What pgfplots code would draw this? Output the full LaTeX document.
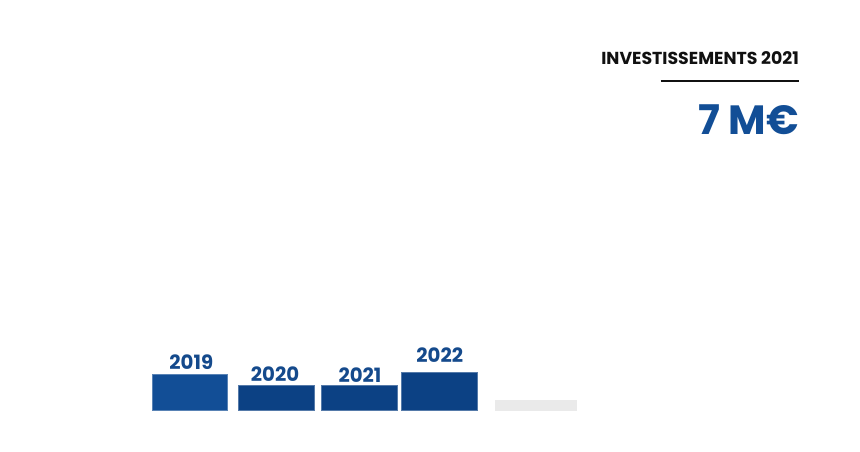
\documentclass[border=0pt]{standalone}
\usepackage{pgfplots}
\pgfplotsset{compat=1.18}
\usepackage{fontspec}
\setmainfont{Poppins}
\definecolor{bA}{HTML}{124E96}
\definecolor{bB}{HTML}{0C4184}
\definecolor{lab}{HTML}{154A8C}
\definecolor{gr}{HTML}{EAEAEA}
\definecolor{txt}{HTML}{111111}
\begin{document}
\begin{tikzpicture}
\begin{axis}[
  width=860bp, height=451bp, scale only axis,
  xmin=0, xmax=860, ymin=-40.3, ymax=410.7,
  hide axis, clip=false,
]
\path (rel axis cs:0,0) rectangle (rel axis cs:1,1);
\addplot[ybar, bar shift=0pt, bar width=75.4, fill=bA, draw=bA!70!white, line width=0.6bp] coordinates {(190,36.4)};
\addplot[ybar, bar shift=0pt, bar width=75.7, fill=bB, draw=bB!70!white, line width=0.6bp] coordinates {(276.2,25.7)};
\addplot[ybar, bar shift=0pt, bar width=75.6, fill=bB, draw=bB!70!white, line width=0.6bp] coordinates {(359.5,25.0)};
\addplot[ybar, bar shift=0pt, bar width=76, fill=bB, draw=bB!70!white, line width=0.6bp] coordinates {(439.7,38.4)};
\addplot[ybar, bar shift=0pt, bar width=81.7, fill=gr, draw=none] coordinates {(535.8,10.7)};
\addplot[only marks, mark=none, nodes near coords, point meta=explicit symbolic,
  every node near coord/.append style={anchor=base, inner sep=0pt, yshift=0pt, text=lab, font=\fontsize{19.8}{22}\selectfont\bfseries}]
  table[meta=lab] {
x y lab
191.3 41.7 2019
275 29 2020
360 28.7 2021
439.8 48 2022
};
\node[anchor=base east, inner sep=0pt, text=txt, font=\fontsize{17.4}{19}\selectfont\bfseries] at (axis cs:799,345.7) {INVESTISSEMENTS 2021};
\draw[txt, line width=2bp] (axis cs:660.7,329.7) -- (axis cs:799,329.7);
\node[anchor=base east, inner sep=0pt, text=bA, font=\fontsize{41}{44}\selectfont\bfseries] at (axis cs:799,276.4) {7 M€};
\end{axis}
\end{tikzpicture}
\end{document}
